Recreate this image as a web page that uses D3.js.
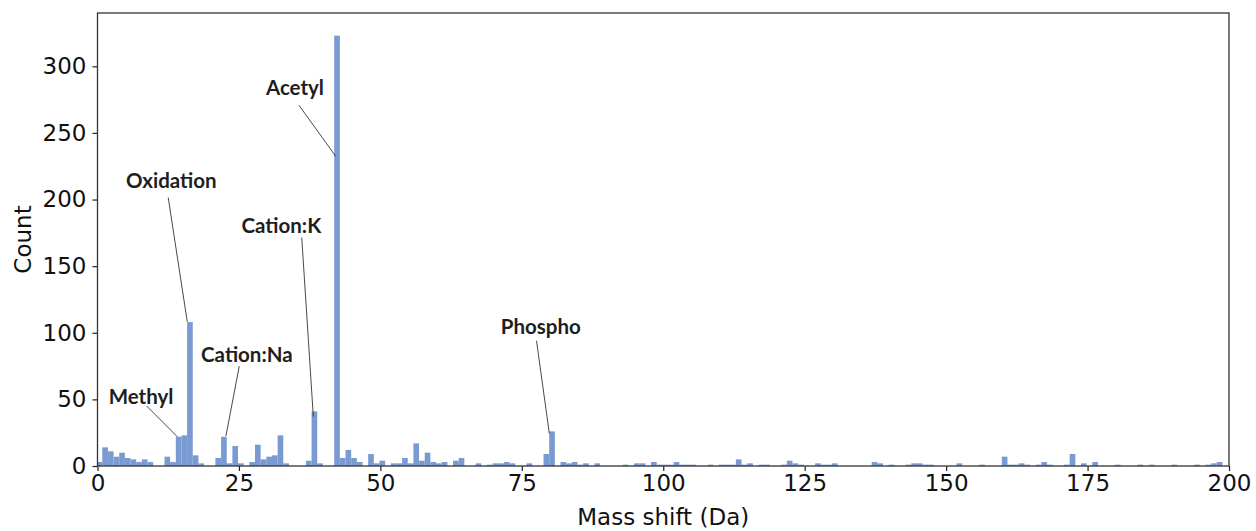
<!DOCTYPE html>
<html>
<head>
<meta charset="utf-8">
<script src="https://cdn.jsdelivr.net/npm/d3@7"></script>
<style>
  body { margin: 0; background: #fff; }
  svg { display: block; }
</style>
</head>
<body>
<div id="chart"></div>
<script>
// histogram counts, one per 1 Da bin (bin k covers k-0.16 .. k+0.84)
const counts = [
  3, 14, 11, 7, 10, 6, 5, 3, 5, 3,
  0, 0, 7, 3, 22, 23, 108, 8, 2, 0,
  0, 6, 22, 2, 15, 2, 0, 3, 16, 5,
  7, 8, 23, 2, 0, 0, 0, 4, 41, 2,
  0, 0, 323, 6, 12, 6, 3, 0, 9, 2,
  4, 0, 2, 2, 6, 2, 17, 4, 10, 3,
  2, 3, 0, 4, 6, 0, 0, 2, 0, 1,
  2, 2, 3, 2, 0, 0, 2, 0, 0, 9,
  26, 0, 3, 2, 3, 1, 2, 0, 2, 0,
  0, 0, 0, 1, 0, 2, 2, 0, 3, 1,
  1, 1, 3, 1, 1, 1, 0, 0, 1, 0,
  1, 1, 1, 5, 1, 2, 0, 1, 1, 0,
  0, 1, 4, 2, 1, 0, 0, 2, 1, 1,
  2, 0, 0, 0, 0, 0, 0, 3, 2, 0,
  1, 0, 0, 1, 2, 2, 1, 1, 0, 0,
  0, 0, 2, 0, 0, 0, 1, 0, 0, 0,
  7, 1, 1, 2, 1, 0, 1, 3, 1, 0,
  0, 1, 9, 0, 2, 0, 3, 0, 0, 0,
  1, 0, 0, 0, 1, 0, 1, 0, 0, 0,
  1, 0, 0, 0, 1, 0, 1, 2, 3, 0
];
const binOffset = -0.16;

const xTicks = [0, 25, 50, 75, 100, 125, 150, 175, 200];
const yTicks = [0, 50, 100, 150, 200, 250, 300];

// annotated modifications: target point and label placement, in data units
const labels = ["Acetyl", "Oxidation", "Cation:K", "Cation:Na", "Methyl", "Phospho"];
const targetMass = [42.1, 15.87, 38.15, 22.7, 14.1, 79.86];
const targetCount = [232.5, 108.2, 37, 22.5, 22, 24.5];
const labelMass = [34.9, 13.05, 32.5, 26.4, 7.7, 78.35];
const labelCount = [278.3, 208.5, 175, 77.8, 46.5, 98.8];
const lineMass = [35.6, 12.5, 36.1, 25.06, 8.7, 77.6];
const lineCount = [270.8, 201.5, 171.5, 75, 45, 94];

const W = 1256, H = 531;
const margin = {top: 13, right: 27, bottom: 65, left: 97.5};
const width = W - margin.left - margin.right;
const height = H - margin.top - margin.bottom;

const svg = d3.select("#chart").append("svg")
  .attr("width", W)
  .attr("height", H);

const g = svg.append("g")
  .attr("transform", "translate(" + margin.left + "," + margin.top + ")");

const x = d3.scaleLinear().domain([0, 200]).range([0, width]);
const y = d3.scaleLinear().domain([0, 340]).range([height, 0]);

g.append("defs").append("clipPath").attr("id", "clip")
  .append("rect").attr("width", width).attr("height", height);

g.append("g").attr("clip-path", "url(#clip)")
  .selectAll("rect")
  .data(counts)
  .join("rect")
  .attr("x", (d, i) => x(i + binOffset))
  .attr("width", (d, i) => x(i + binOffset + 1) - x(i + binOffset))
  .attr("y", d => y(d))
  .attr("height", d => y(0) - y(d))
  .attr("fill", "#799bd2");

// annotation lines and labels
labels.forEach((name, i) => {
  g.append("line")
    .attr("x1", x(lineMass[i])).attr("y1", y(lineCount[i]))
    .attr("x2", x(targetMass[i])).attr("y2", y(targetCount[i]))
    .attr("stroke", "#333")
    .attr("stroke-width", 0.9);
  g.append("text")
    .attr("x", x(labelMass[i]))
    .attr("y", y(labelCount[i]))
    .attr("text-anchor", "middle")
    .attr("font-family", "Lato, 'Open Sans', sans-serif")
    .attr("font-weight", "bold")
    .attr("font-size", 20.5)
    .attr("fill", "#1e1e1e")
    .text(name);
});

// axes
const fontAxis = "'DejaVu Sans', sans-serif";
const xAxis = g.append("g")
  .attr("transform", "translate(0," + height + ")")
  .call(d3.axisBottom(x).tickValues(xTicks).tickSize(5).tickPadding(4).tickSizeOuter(0));
const yAxis = g.append("g")
  .call(d3.axisLeft(y).tickValues(yTicks).tickSize(5).tickPadding(6).tickSizeOuter(0));

[xAxis, yAxis].forEach(a => {
  a.selectAll("text").attr("font-family", fontAxis).attr("font-size", 23).attr("fill", "#111");
  a.selectAll("line").attr("stroke", "#222").attr("stroke-width", 1.2);
  a.select(".domain").remove();
});

// frame
g.append("rect")
  .attr("width", width).attr("height", height)
  .attr("fill", "none")
  .attr("stroke", "#333")
  .attr("stroke-width", 1.3);

svg.append("text")
  .attr("x", margin.left + width / 2)
  .attr("y", 525)
  .attr("text-anchor", "middle")
  .attr("font-family", fontAxis)
  .attr("font-size", 23)
  .attr("fill", "#111")
  .text("Mass shift (Da)");

svg.append("text")
  .attr("transform", "translate(31," + (margin.top + height / 2) + ") rotate(-90)")
  .attr("text-anchor", "middle")
  .attr("font-family", fontAxis)
  .attr("font-size", 23)
  .attr("fill", "#111")
  .text("Count");
</script>
</body>
</html>
